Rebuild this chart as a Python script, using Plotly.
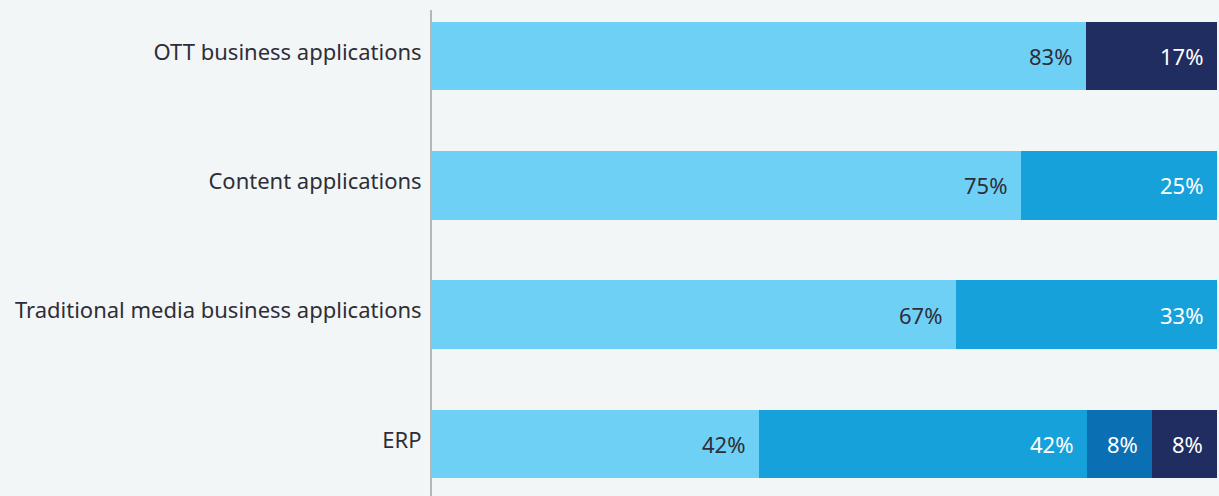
import plotly.graph_objects as go

categories = ["OTT business applications", "Content applications",
              "Traditional media business applications", "ERP"]
series_names = ["Segment 1", "Segment 2", "Segment 3", "Segment 4"]
series_values = [
    [83.3, 75.0, 66.7, 41.7],
    [0.0, 25.0, 33.3, 41.7],
    [0.0, 0.0, 0.0, 8.3],
    [16.7, 0.0, 0.0, 8.3],
]
series_colors = ["#6fd0f6", "#17a1db", "#0a70b3", "#1f2d60"]
text_colors = ["#2e2e38", "#ffffff", "#ffffff", "#ffffff"]
BG = "#f3f6f7"

FONT = "Noto Sans"
fig = go.Figure()
for name, vals, col in zip(series_names, series_values, series_colors):
    fig.add_trace(go.Bar(
        y=categories, x=vals, name=name, orientation="h",
        marker=dict(color=col, line=dict(width=0)),
        hoverinfo="x+y",
    ))

annotations = []
for ci, cat in enumerate(categories):
    cum = 0.0
    for si, vals in enumerate(series_values):
        v = vals[ci]
        cum += v
        if v > 0:
            annotations.append(dict(
                x=cum, y=cat, xref="x", yref="y", text=f"{round(v)}%",
                showarrow=False, xanchor="right", yanchor="middle", xshift=-12,
                font=dict(family=FONT, size=22, color=text_colors[si]),
            ))

fig.update_layout(
    barmode="stack", bargap=0.47,
    width=1219, height=496,
    margin=dict(l=432, r=2, t=10, b=0),
    paper_bgcolor=BG, plot_bgcolor=BG,
    showlegend=False,
    annotations=annotations,
    font=dict(family=FONT, size=22, color="#2e2e38"),
    xaxis=dict(range=[0, 100], visible=False, fixedrange=True),
    yaxis=dict(
        categoryorder="array", categoryarray=categories,
        range=[3.403, -0.356], showgrid=False, zeroline=False,
        showline=True, linecolor="#b5b8bb", linewidth=2,
        ticks="outside", ticklen=4, tickcolor="rgba(0,0,0,0)",
        ticklabelshift=4,
        tickfont=dict(family=FONT, size=22, color="#2e2e38"),
    ),
)

fig.write_html(
    "out.html",
    config={"displayModeBar": False},
    post_script=(
        "document.body.style.margin='0';"
        "document.body.style.overflow='hidden';"
        f"document.body.style.background='{BG}';"
    ),
)
